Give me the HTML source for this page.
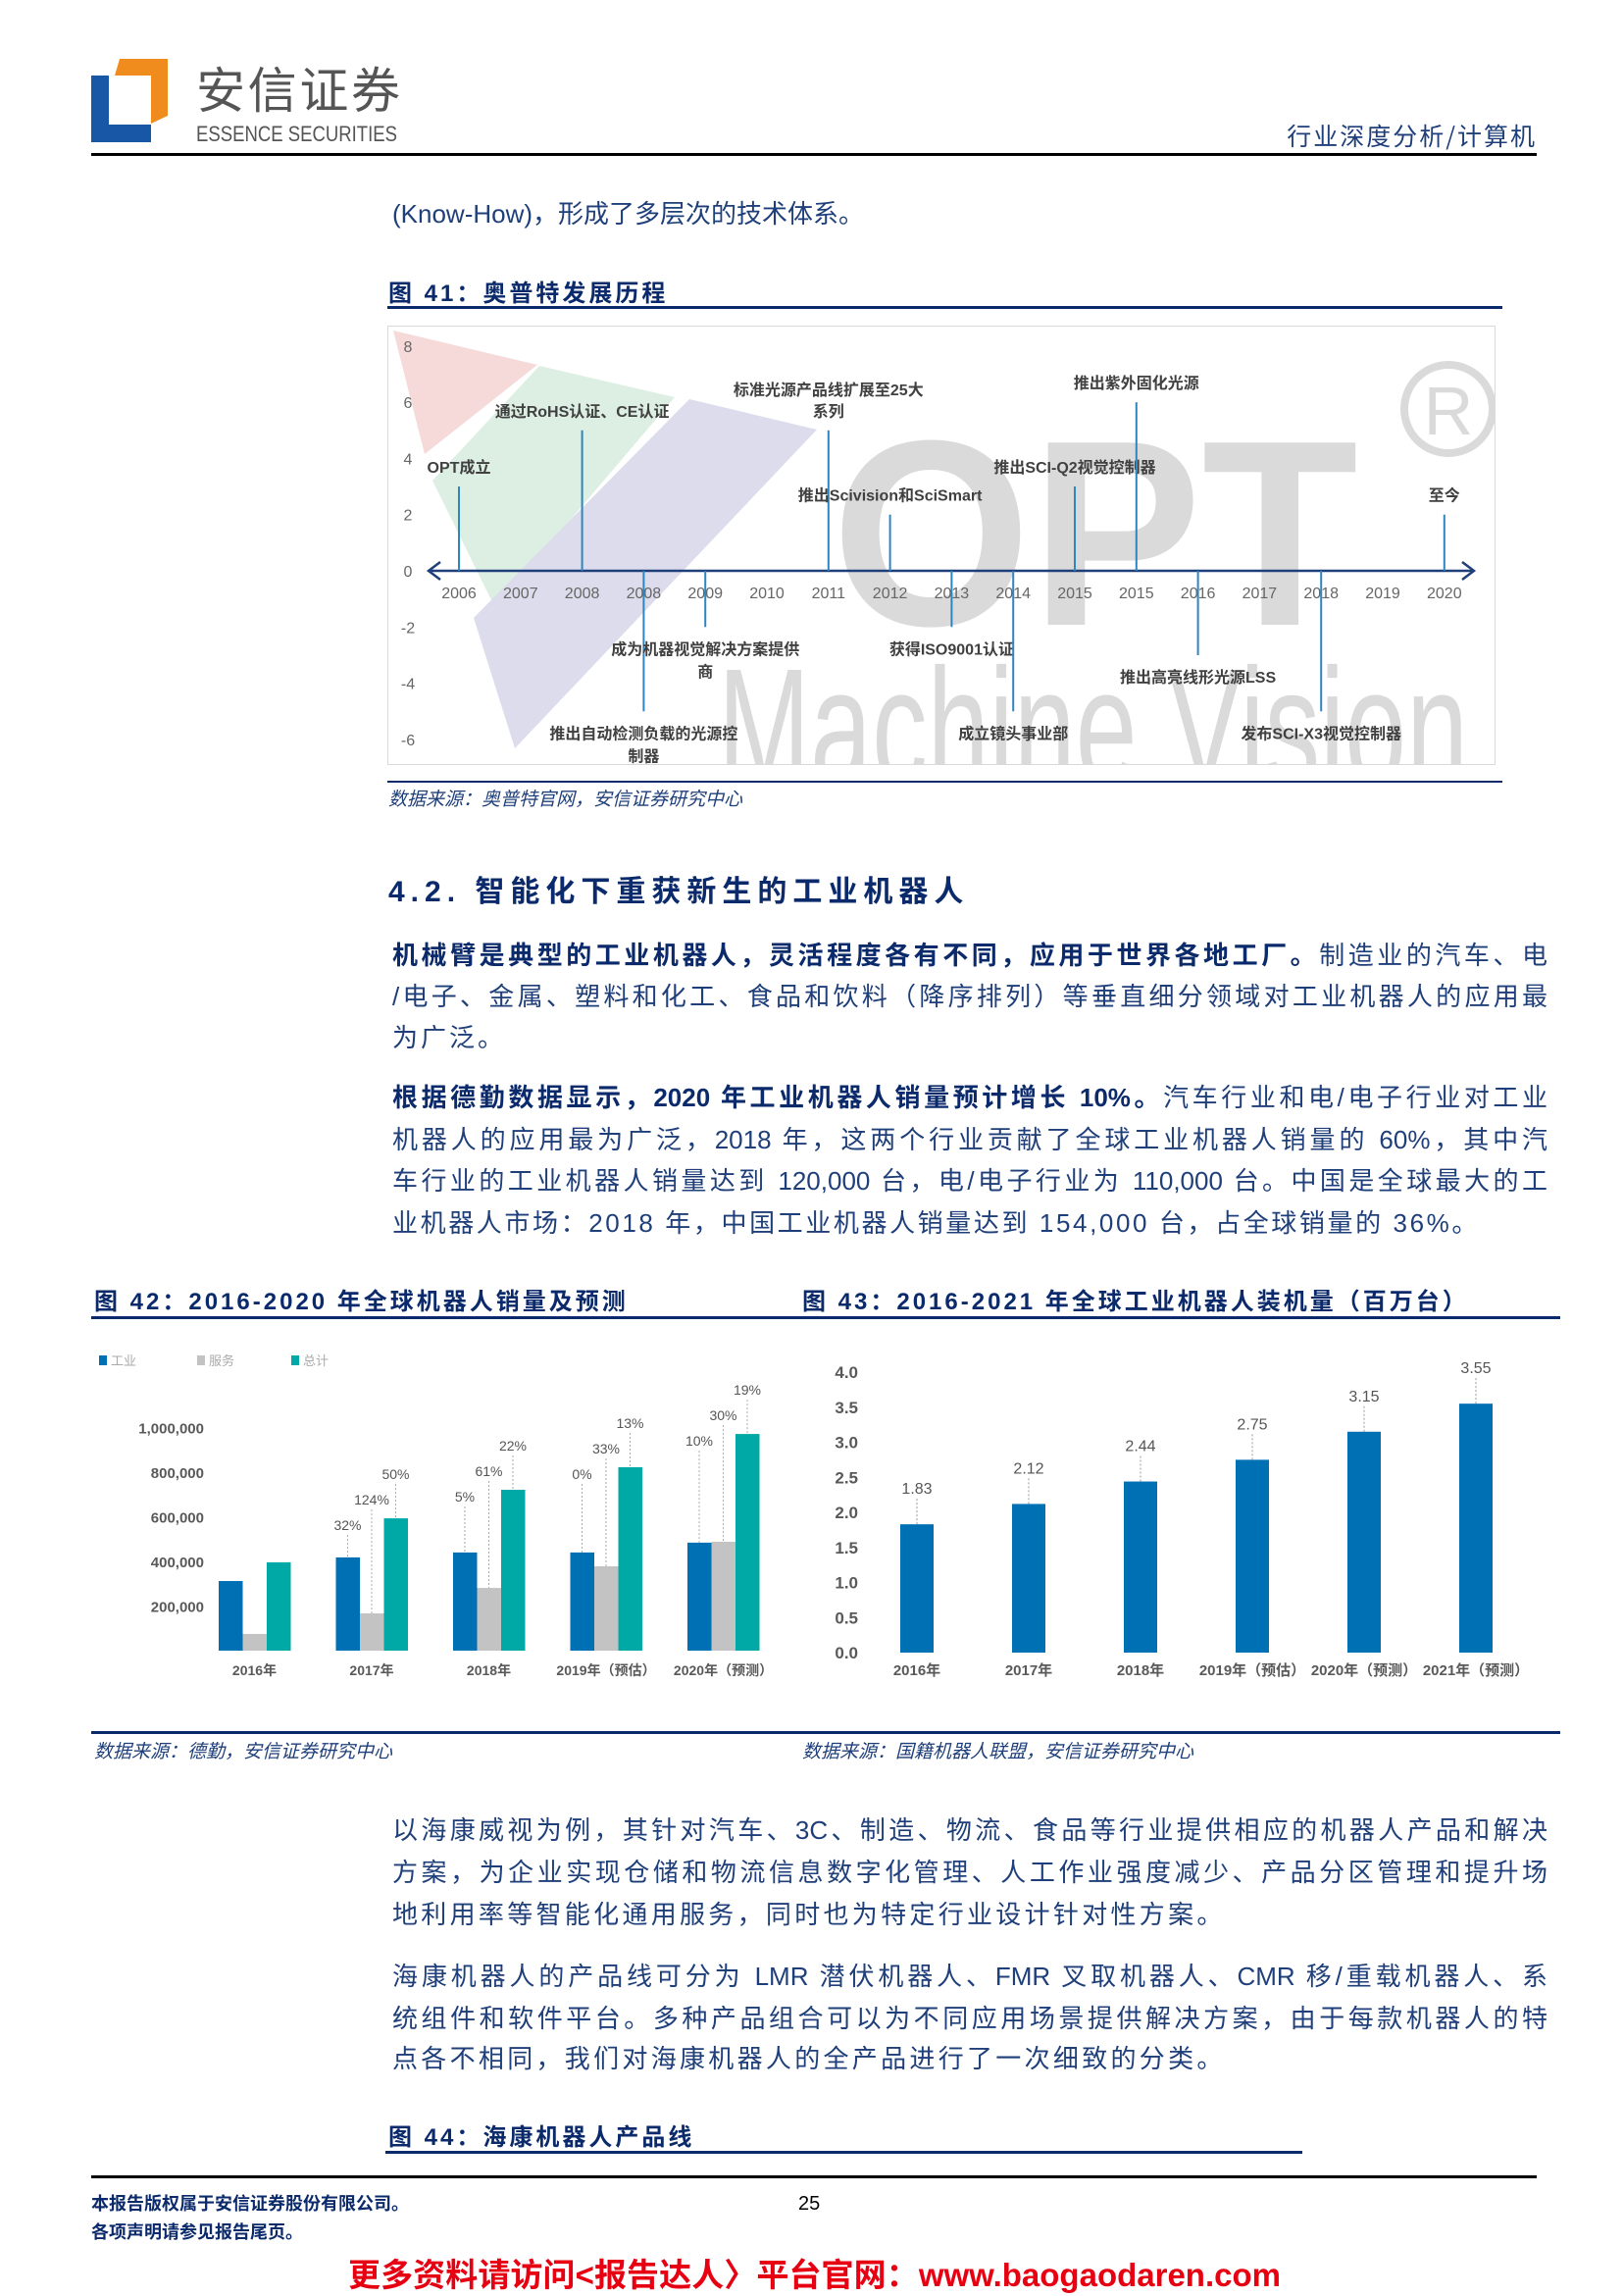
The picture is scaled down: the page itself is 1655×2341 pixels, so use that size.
<!DOCTYPE html>
<html lang="zh">
<head>
<meta charset="utf-8">
<style>
  html,body{margin:0;padding:0;background:#fff;}
  body{width:1655px;height:2340px;position:relative;overflow:hidden;
       font-family:"Liberation Sans","Noto Sans CJK SC",sans-serif;}
  .abs{position:absolute;}
  .txt{position:absolute;left:400px;width:1178px;font-size:26px;color:#1f3f7a;
       font-family:"Liberation Sans","Noto Sans CJK SC",sans-serif;white-space:nowrap;line-height:30px;}
  .j{text-align:justify;text-align-last:justify;}
  .b{font-weight:bold;color:#0b2a6b;}
  .figt{position:absolute;font-size:24px;font-weight:bold;color:#0b2a6b;letter-spacing:3px;white-space:nowrap;}
  .rule{position:absolute;background:#0b2a6b;height:3px;}
  .src{position:absolute;font-size:19px;font-style:italic;color:#1f3f7a;white-space:nowrap;}
</style>
</head>
<body>
<!-- header -->
<svg class="abs" style="left:0;top:0" width="1655" height="170">
  <g>
    <rect x="93" y="77" width="18" height="68" fill="#1757a6"/>
    <rect x="93" y="127" width="61" height="18" fill="#1757a6"/>
    <polygon points="122,60 171,60 171,77 117,77" fill="#f08c1e"/>
    <polygon points="154,60 171,60 171,118 154,126" fill="#f08c1e"/>
  </g>
  <text x="200" y="110" font-size="50" fill="#555" font-family="Noto Sans CJK SC,sans-serif" textLength="208">安信证券</text>
  <text x="200" y="144" font-size="22" fill="#555" font-family="Liberation Sans,sans-serif" textLength="205" lengthAdjust="spacingAndGlyphs">ESSENCE SECURITIES</text>
  <text x="1567" y="148" font-size="25" fill="#1f3f7a" text-anchor="end" font-family="Noto Sans CJK SC,sans-serif" letter-spacing="2">行业深度分析/计算机</text>
  <rect x="93" y="156" width="1474" height="3" fill="#000"/>
</svg>

<div class="txt" style="top:203px">(Know-How)，形成了多层次的技术体系。</div>

<div class="figt" style="left:396px;top:279px">图 41：奥普特发展历程</div>
<div class="rule" style="left:395px;top:312px;width:1137px"></div>

<svg class="abs" style="left:0;top:0" width="1655" height="800" id="tl">
  <defs><clipPath id="boxclip"><rect x="396" y="333" width="1128" height="446"/></clipPath></defs>
  <rect x="395.5" y="332.5" width="1129" height="447" fill="#fff" stroke="#d9d9d9"/>
  <g clip-path="url(#boxclip)">
    <polygon points="401,337 548,372 433,463" fill="#f6d9d9"/>
    <polygon points="441,490 550,373 688,405 505,620" fill="#dcefe2"/>
    <polygon points="703,407 833,438 525,763 483,630" fill="#dcdcec"/>
    <text x="848" y="637" font-size="270" font-weight="bold" fill="#dadada" textLength="537" lengthAdjust="spacingAndGlyphs" font-family="Liberation Sans,sans-serif">OPT</text>
    <text x="732" y="800" font-size="170" fill="#dadada" textLength="765" lengthAdjust="spacingAndGlyphs" font-family="Liberation Sans,sans-serif">Machine Vision</text>
    <circle cx="1477" cy="417" r="45" fill="none" stroke="#dadada" stroke-width="8"/>
    <text x="1477" y="443" font-size="70" fill="#dadada" text-anchor="middle" font-family="Liberation Sans,sans-serif">R</text>
  </g>
  <g id="tlmarks"></g>
</svg>

<div class="rule" style="left:395px;top:796px;width:1137px;height:2px"></div>
<div class="src" style="left:396px;top:800px">数据来源：奥普特官网，安信证券研究中心</div>

<div class="abs" style="left:396px;top:884px;font-size:30px;font-weight:bold;color:#0b2a6b;letter-spacing:6px;white-space:nowrap">4.2. 智能化下重获新生的工业机器人</div>

<div class="txt j" style="top:959px"><span class="b">机械臂是典型的工业机器人，灵活程度各有不同，应用于世界各地工厂。</span>制造业的汽车、电</div>
<div class="txt j" style="top:1001px">/电子、金属、塑料和化工、食品和饮料（降序排列）等垂直细分领域对工业机器人的应用最</div>
<div class="txt" style="top:1043px;letter-spacing:3px">为广泛。</div>

<div class="txt j" style="top:1104px"><span class="b">根据德勤数据显示，2020 年工业机器人销量预计增长 10%。</span>汽车行业和电/电子行业对工业</div>
<div class="txt j" style="top:1147px">机器人的应用最为广泛，2018 年，这两个行业贡献了全球工业机器人销量的 60%，其中汽</div>
<div class="txt j" style="top:1189px">车行业的工业机器人销量达到 120,000 台，电/电子行业为 110,000 台。中国是全球最大的工</div>
<div class="txt" style="top:1232px;letter-spacing:2.6px">业机器人市场：2018 年，中国工业机器人销量达到 154,000 台，占全球销量的 36%。</div>

<div class="figt" style="left:96px;top:1307px">图 42：2016-2020 年全球机器人销量及预测</div>
<div class="figt" style="left:818px;top:1307px">图 43：2016-2021 年全球工业机器人装机量（百万台）</div>
<div class="rule" style="left:93px;top:1342px;width:1498px"></div>

<svg class="abs" style="left:0;top:1350px" width="1655" height="420" viewBox="0 1350 1655 420" id="bars">
  <g id="c42"></g><g id="c43"></g>
</svg>

<div class="rule" style="left:93px;top:1765px;width:1498px"></div>
<div class="src" style="left:96px;top:1771px">数据来源：德勤，安信证券研究中心</div>
<div class="src" style="left:818px;top:1771px">数据来源：国籍机器人联盟，安信证券研究中心</div>

<div class="txt j" style="top:1851px">以海康威视为例，其针对汽车、3C、制造、物流、食品等行业提供相应的机器人产品和解决</div>
<div class="txt j" style="top:1894px">方案，为企业实现仓储和物流信息数字化管理、人工作业强度减少、产品分区管理和提升场</div>
<div class="txt" style="top:1937px;letter-spacing:3.3px">地利用率等智能化通用服务，同时也为特定行业设计针对性方案。</div>

<div class="txt j" style="top:2000px">海康机器人的产品线可分为 LMR 潜伏机器人、FMR 叉取机器人、CMR 移/重载机器人、系</div>
<div class="txt j" style="top:2043px">统组件和软件平台。多种产品组合可以为不同应用场景提供解决方案，由于每款机器人的特</div>
<div class="txt" style="top:2084px;letter-spacing:3.3px">点各不相同，我们对海康机器人的全产品进行了一次细致的分类。</div>

<div class="figt" style="left:396px;top:2159px">图 44：海康机器人产品线</div>
<div class="rule" style="left:393px;top:2193px;width:935px"></div>

<div class="abs" style="left:93px;top:2218px;width:1474px;height:3px;background:#000"></div>
<div class="abs" style="left:93px;top:2233px;font-size:18px;font-weight:bold;color:#0b2a6b;white-space:nowrap">本报告版权属于安信证券股份有限公司。</div>
<div class="abs" style="left:93px;top:2262px;font-size:18px;font-weight:bold;color:#0b2a6b;white-space:nowrap">各项声明请参见报告尾页。</div>
<div class="abs" style="left:814px;top:2236px;font-size:20px;color:#000">25</div>
<div class="abs" style="left:355px;top:2293px;width:951px;font-size:33px;font-weight:bold;color:#e60012;white-space:nowrap;text-align:justify;text-align-last:justify">更多资料请访问&lt;报告达人〉平台官网：www.baogaodaren.com</div>

<script>
var NS='http://www.w3.org/2000/svg';
function mk(tag,attrs,parent,text){var e=document.createElementNS(NS,tag);for(var k in attrs)e.setAttribute(k,attrs[k]);if(text!==undefined)e.textContent=text;parent.appendChild(e);return e;}

/* ---------- Figure 41 timeline ---------- */
var tlYears=['2006','2007','2008','2008','2009','2010','2011','2012','2013','2014','2015','2015','2016','2017','2018','2019','2020'];
var tlYTicks=[8,6,4,2,0,-2,-4,-6];
var evIndex=[0,2,3,4,6,7,8,9,10,11,12,14,16];
var evHeight=[3,5,-5,-2,5,2,-2,-5,3,6,-3,-5,2];
var evLabel=[['OPT成立'],['通过RoHS认证、CE认证'],['推出自动检测负载的光源控','制器'],['成为机器视觉解决方案提供','商'],['标准光源产品线扩展至25大','系列'],['推出Scivision和SciSmart'],['获得ISO9001认证'],['成立镜头事业部'],['推出SCI-Q2视觉控制器'],['推出紫外固化光源'],['推出高亮线形光源LSS'],['发布SCI-X3视觉控制器'],['至今']];
function tx(i){return 468+i*62.8;}
function ty(v){return 582-v*28.65;}
var tl=document.getElementById('tlmarks');
tlYTicks.forEach(function(v){
  var t=mk('text',{x:416,y:ty(v)+6,'font-size':16,fill:'#666','text-anchor':'middle','font-family':'Liberation Sans,sans-serif'},tl,String(v));
  
  
});
var ax=mk('line',{x1:437,y1:582,x2:1503,y2:582,stroke:'#1f3f7a','stroke-width':2.5},tl);


mk('polyline',{points:'449,573 437,582 449,591',fill:'none',stroke:'#1f3f7a','stroke-width':2.5},tl);
mk('polyline',{points:'1491,573 1503,582 1491,591',fill:'none',stroke:'#1f3f7a','stroke-width':2.5},tl);
tlYears.forEach(function(y,i){
  var t=mk('text',{x:tx(i),y:610,'font-size':16,fill:'#666','text-anchor':'middle','font-family':'Liberation Sans,sans-serif'},tl,y);
  
  
});
evIndex.forEach(function(idx,k){
  var h=evHeight[k],x=tx(idx),yEnd=ty(h);
  var l=mk('line',{x1:x,y1:582,x2:x,y2:yEnd,stroke:'#2e86c1','stroke-width':2},tl);
  
  
  var lines=evLabel[k];
  lines.forEach(function(s,j){
    var cy;
    if(h>0){cy=yEnd-20-(lines.length-1-j)*22;}else{cy=yEnd+22+j*23;}
    var t=mk('text',{x:x,y:cy+6,'font-size':16,'font-weight':'bold',fill:'#404040','text-anchor':'middle','font-family':'Liberation Sans,Noto Sans CJK SC,sans-serif'},tl,s);
    
    
  });
});

/* ---------- Figure 42 grouped bars ---------- */
var c42Years=['2016年','2017年','2018年','2019年（预估）','2020年（预测）'];
var c42Industrial=[312000,418000,440000,440000,484000];
var c42Service=[75000,167000,281000,378000,488000];
var c42Total=[396000,593000,721000,822000,971000];
var c42IndPct=['','32%','5%','0%','10%'];
var c42SerPct=['','124%','61%','33%','30%'];
var c42TotPct=['','50%','22%','13%','19%'];
var c42Ticks=[200000,400000,600000,800000,1000000];
var c42TickLabels=['200,000','400,000','600,000','800,000','1,000,000'];
var c42Legend=['工业','服务','总计'];
var col=['#0070b5','#c3c3c3','#00a9a6'];
function y42(v){return 1683-v/200000*45.5;}
function x42(g,s){return 223+g*119.5+s*24.5;}
var g42=document.getElementById('c42');
c42Ticks.forEach(function(v,i){
  var t=mk('text',{x:208,y:y42(v)+6,'font-size':15,'font-weight':'bold',fill:'#595959','text-anchor':'end','font-family':'Liberation Sans,sans-serif'},g42,c42TickLabels[i]);
  
  
});
c42Legend.forEach(function(s,i){
  var lx=[101,201,297][i];
  var r=mk('rect',{x:lx,y:1382,width:8,height:10,fill:col[i]},g42);
  
  
  var t=mk('text',{x:lx+12,y:1392,'font-size':13,fill:'#aaa','font-family':'Noto Sans CJK SC,sans-serif'},g42,s);
  
  
});
var series42=[c42Industrial,c42Service,c42Total];
var pcts42=[c42IndPct,c42SerPct,c42TotPct];
c42Years.forEach(function(yr,g){
  series42.forEach(function(arr,s){
    var top=y42(arr[g]);
    var r=mk('rect',{x:x42(g,s),y:top,width:24.5,height:1683-top,fill:col[s]},g42);
    
    
  });
  var tTop=y42(c42Total[g]);
  var offs=[52-45,26-45,-45];
  pcts42.forEach(function(p,s){
    if(!p[g])return;
    var ly=tTop+offs[s];
    var cx=x42(g,s)+12;
    var ln=mk('line',{x1:cx,y1:ly+10,x2:cx,y2:y42(series42[s][g]),stroke:'#aaa','stroke-width':1,'stroke-dasharray':'2,2'},g42);
    
    
    var t=mk('text',{x:cx,y:ly+5,'font-size':14,fill:'#555','text-anchor':'middle','font-family':'Liberation Sans,sans-serif'},g42,p[g]);
    
    
  });
  var t=mk('text',{x:x42(g,1)+12,y:1708,'font-size':14,'font-weight':'bold',fill:'#595959','text-anchor':'middle','font-family':'Liberation Sans,Noto Sans CJK SC,sans-serif'},g42,yr);
  
  
});

/* ---------- Figure 43 bars ---------- */
var c43Years=['2016年','2017年','2018年','2019年（预估）','2020年（预测）','2021年（预测）'];
var c43Values=[1.83,2.12,2.44,2.75,3.15,3.55];
var c43Ticks=[0,0.5,1,1.5,2,2.5,3,3.5,4];
function y43(v){return 1685-v*71.5;}
function x43(i){return 918+i*114;}
var g43=document.getElementById('c43');
c43Ticks.forEach(function(v){
  var t=mk('text',{x:875,y:y43(v)+6,'font-size':17,'font-weight':'bold',fill:'#595959','text-anchor':'end','font-family':'Liberation Sans,sans-serif'},g43,v.toFixed(1));
  
  
});
c43Values.forEach(function(v,i){
  var top=y43(v),cx=x43(i)+17;
  var r=mk('rect',{x:x43(i),y:top,width:34,height:1685-top,fill:'#0070b5'},g43);
  
  
  var ln=mk('line',{x1:cx,y1:top-26,x2:cx,y2:top,stroke:'#999','stroke-width':1,'stroke-dasharray':'2,2'},g43);
  
  
  var t=mk('text',{x:cx,y:top-31,'font-size':16,fill:'#555','text-anchor':'middle','font-family':'Liberation Sans,sans-serif'},g43,v.toFixed(2));
  
  
  var xl=mk('text',{x:cx,y:1708,'font-size':15,'font-weight':'bold',fill:'#595959','text-anchor':'middle','font-family':'Liberation Sans,Noto Sans CJK SC,sans-serif'},g43,c43Years[i]);
  
  
});
</script>
</body>
</html>
